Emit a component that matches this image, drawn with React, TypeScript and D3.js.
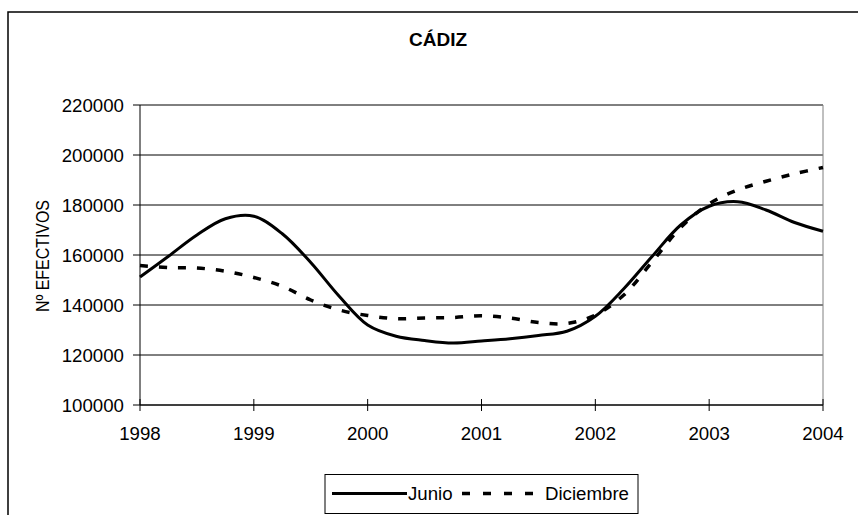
import React from "react";
import * as d3 from "d3";

const title = "CÁDIZ";
const yAxisTitle = "Nº EFECTIVOS";
const xTickYears = [1998, 1999, 2000, 2001, 2002, 2003, 2004];
const yTickValues = [100000, 120000, 140000, 160000, 180000, 200000, 220000];

const periods = [
  1998.0, 1998.25, 1998.5, 1998.75,
  1999.0, 1999.25, 1999.5, 1999.75,
  2000.0, 2000.25, 2000.5, 2000.75,
  2001.0, 2001.25, 2001.5, 2001.75,
  2002.0, 2002.25, 2002.5, 2002.75,
  2003.0, 2003.25, 2003.5, 2003.75,
  2004.0,
];

const junio = [
  151200, 159500, 168000, 174500,
  175500, 168500, 157000, 143500,
  132000, 127500, 125800, 124800,
  125600, 126500, 127800, 129500,
  135500, 146500, 159500, 172000,
  179500, 181300, 178000, 173000,
  169500,
];

const diciembre = [
  155800, 155000, 154800, 153500,
  151000, 147500, 142000, 138000,
  135800, 134500, 134800, 135000,
  135700, 134800, 133000, 132600,
  136000, 144000, 157300, 171000,
  180500, 186000, 189500, 192500,
  195000,
];

const seriesNames = ["Junio", "Diciembre"];

const FONT = "'Liberation Sans', Arial, sans-serif";

export default function App() {
  const W = 858;
  const H = 515;
  const left = 140;
  const right = 823;
  const top = 105;
  const bottom = 405;

  const x = d3.scaleLinear().domain([1998, 2004]).range([left, right]);
  const y = d3.scaleLinear().domain([100000, 220000]).range([bottom, top]);

  const line = d3
    .line<number>()
    .x((_, i) => x(periods[i]))
    .y((d) => y(d))
    .curve(d3.curveCatmullRom.alpha(0.5));

  const junioPath = line(junio) || "";
  const dicPath = line(diciembre) || "";

  return (
    <svg
      width={W}
      height={H}
      style={{ position: "absolute", left: 0, top: 0, background: "#fff" }}
      fontFamily={FONT}
    >
      <rect x={0} y={0} width={W} height={H} fill="#fff" />
      {/* outer chart border */}
      <rect x={8} y={12} width={W + 20} height={H + 20} fill="none" stroke="#000" strokeWidth={1.5} />

      {/* title */}
      <text x={438} y={46} textAnchor="middle" fontSize={19} fontWeight="bold" fill="#000">
        {title}
      </text>

      {/* gridlines */}
      {yTickValues.map((v) => (
        <line key={"g" + v} x1={left} x2={right} y1={y(v)} y2={y(v)} stroke="#000" strokeWidth={1} />
      ))}
      {/* right plot border */}
      <line x1={right} x2={right} y1={top} y2={bottom} stroke="#808080" strokeWidth={1} />

      {/* y axis */}
      <line x1={left} x2={left} y1={top} y2={bottom} stroke="#000" strokeWidth={1} />
      {yTickValues.map((v) => (
        <g key={"yt" + v}>
          <line x1={left - 7} x2={left} y1={y(v)} y2={y(v)} stroke="#000" strokeWidth={1} />
          <text x={124} y={y(v)} dy="0.35em" textAnchor="end" fontSize={18.67} fill="#000">
            {String(v)}
          </text>
        </g>
      ))}

      {/* x axis */}
      <line x1={left} x2={right} y1={bottom} y2={bottom} stroke="#000" strokeWidth={1} />
      {xTickYears.map((t) => (
        <g key={"xt" + t}>
          <line x1={x(t)} x2={x(t)} y1={bottom - 6} y2={bottom + 6} stroke="#000" strokeWidth={1} />
          <text x={x(t)} y={440} textAnchor="middle" fontSize={18.67} fill="#000">
            {String(t)}
          </text>
        </g>
      ))}

      {/* y axis title */}
      <text
        transform={`translate(49, 256) rotate(-90)`}
        textAnchor="middle"
        fontSize={18.67}
        fill="#000"
        textLength={112}
        lengthAdjust="spacingAndGlyphs"
      >
        {yAxisTitle}
      </text>

      {/* series */}
      <path d={junioPath} fill="none" stroke="#000" strokeWidth={3} strokeLinejoin="round" />
      <path d={dicPath} fill="none" stroke="#000" strokeWidth={3.5} strokeDasharray="8,11" />

      {/* legend */}
      <rect x={325} y={474.5} width={313} height={39} fill="#fff" stroke="#000" strokeWidth={1} />
      <line x1={332} x2={407} y1={493.5} y2={493.5} stroke="#000" strokeWidth={3} />
      <text x={408} y={493.5} dy="0.35em" fontSize={18.67} fill="#000">
        {seriesNames[0]}
      </text>
      <line x1={462} x2={541} y1={493.5} y2={493.5} stroke="#000" strokeWidth={3.5} strokeDasharray="8,13" />
      <text x={545} y={493.5} dy="0.35em" fontSize={18.67} fill="#000">
        {seriesNames[1]}
      </text>
    </svg>
  );
}
